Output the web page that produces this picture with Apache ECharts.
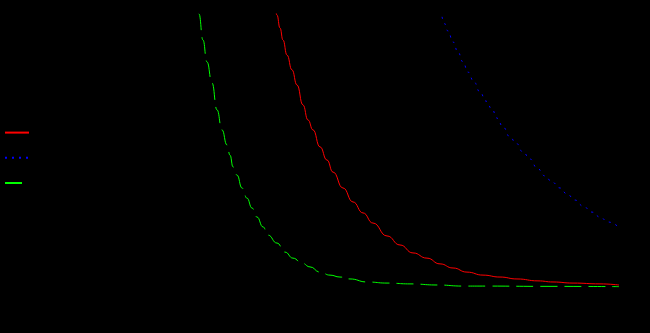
<!DOCTYPE html>
<html>
<head>
<meta charset="utf-8">
<script src="https://cdn.jsdelivr.net/npm/echarts@6/dist/echarts.min.js"></script>
<style>
html, body { margin: 0; padding: 0; background: #000; }
#chart { width: 650px; height: 333px; }
</style>
</head>
<body>
<div id="chart"></div>
<script>
// Series names
const seriesNames = ['Series A', 'Series B', 'Series C'];

// Red solid curve [x, y]
const redData = [
  [4.034, 1.088], [4.086, 0.996], [4.138, 0.949], [4.190, 0.905], [4.259, 0.850],
  [4.345, 0.796], [4.431, 0.741], [4.534, 0.668], [4.621, 0.613], [4.707, 0.577],
  [4.828, 0.515], [4.948, 0.467], [5.052, 0.423], [5.224, 0.365], [5.397, 0.314],
  [5.569, 0.274], [5.741, 0.237], [5.983, 0.190], [6.207, 0.157], [6.431, 0.128],
  [6.672, 0.109], [6.897, 0.088], [7.121, 0.073], [7.362, 0.058], [7.638, 0.047],
  [7.931, 0.040], [8.224, 0.033], [8.586, 0.026], [8.845, 0.022], [9.190, 0.018],
  [9.655, 0.015], [9.983, 0.011]
];

// Blue dotted curve [x, y]
const blueData = [
  [6.845, 1.036], [6.914, 0.996], [6.966, 0.967], [7.034, 0.938], [7.121, 0.898],
  [7.207, 0.861], [7.293, 0.825], [7.379, 0.788], [7.483, 0.752], [7.586, 0.715],
  [7.690, 0.682], [7.793, 0.653], [7.879, 0.620], [7.983, 0.588], [8.103, 0.551],
  [8.207, 0.529], [8.328, 0.496], [8.448, 0.471], [8.569, 0.438], [8.707, 0.409],
  [8.828, 0.387], [8.966, 0.365], [9.086, 0.343], [9.224, 0.321], [9.362, 0.299],
  [9.517, 0.277], [9.655, 0.259], [9.793, 0.241], [9.983, 0.221]
];

// Green dashed curve [x, y]
const greenData = [
  [2.672, 1.088], [2.741, 1.000], [2.810, 0.905], [2.879, 0.825], [2.966, 0.748],
  [3.052, 0.650], [3.138, 0.577], [3.224, 0.522], [3.276, 0.485], [3.328, 0.442],
  [3.397, 0.412], [3.483, 0.365], [3.569, 0.328], [3.655, 0.292], [3.741, 0.259],
  [3.845, 0.223], [3.931, 0.193], [4.086, 0.164], [4.224, 0.131], [4.362, 0.109],
  [4.517, 0.091], [4.655, 0.077], [4.828, 0.058], [5.000, 0.047], [5.172, 0.040],
  [5.345, 0.033], [5.638, 0.022], [5.983, 0.018], [6.379, 0.015], [6.845, 0.011],
  [7.293, 0.007], [7.707, 0.007], [8.621, 0.006], [9.983, 0.005]
];

const chart = echarts.init(document.getElementById('chart'), null, { renderer: 'canvas' });
chart.setOption({
  backgroundColor: '#000',
  animation: false,
  legend: {
    orient: 'vertical',
    left: 4,
    top: 127,
    padding: 0,
    itemWidth: 24,
    itemHeight: 14,
    itemGap: 14,
    itemStyle: { color: 'rgba(0,0,0,0)', borderWidth: 0, opacity: 0 },
    textStyle: { color: '#000', fontSize: 10 },
    data: seriesNames
  },
  grid: { left: 40, right: 30, top: 14, bottom: 45, containLabel: false },
  xAxis: {
    type: 'value', min: 0, max: 10,
    axisLine: { show: false }, axisTick: { show: false },
    axisLabel: { show: false }, splitLine: { show: false }
  },
  yAxis: {
    type: 'value', min: 0, max: 1,
    axisLine: { show: false }, axisTick: { show: false },
    axisLabel: { show: false }, splitLine: { show: false }
  },
  series: [
    {
      name: seriesNames[0], type: 'line', data: redData, symbol: 'none',
      smooth: 0.5, smoothMonotone: 'x', clip: true,
      itemStyle: { color: '#ff0000' },
      lineStyle: { color: '#ff0000', width: 1, type: 'solid' }
    },
    {
      name: seriesNames[1], type: 'line', data: blueData, symbol: 'none',
      smooth: 0.5, smoothMonotone: 'x', clip: true,
      itemStyle: { color: '#0000ff' },
      lineStyle: { color: '#0000ff', width: 1, type: [2, 5] }
    },
    {
      name: seriesNames[2], type: 'line', data: greenData, symbol: 'none',
      smooth: 0.5, smoothMonotone: 'x', clip: true,
      itemStyle: { color: '#00ff00' },
      lineStyle: { color: '#00ff00', width: 1, type: [17, 7] }
    }
  ]
});
</script>
</body>
</html>
